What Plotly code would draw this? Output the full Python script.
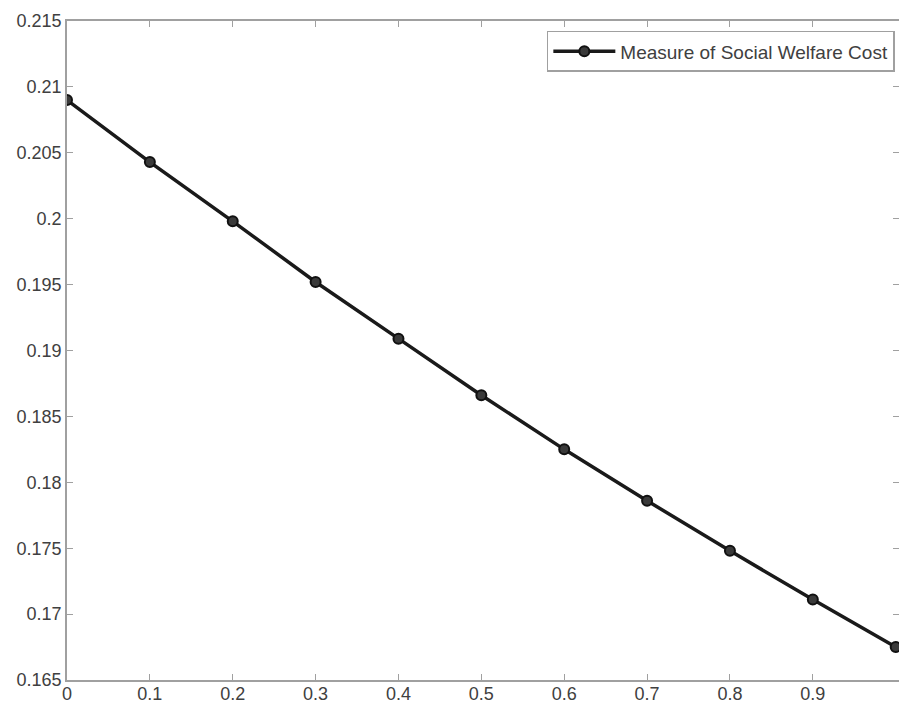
import plotly.graph_objects as go

x_vals = [0, 0.1, 0.2, 0.3, 0.4, 0.5, 0.6, 0.7, 0.8, 0.9, 1.0]
welfare_cost = [0.2090, 0.2043, 0.1998, 0.1952, 0.1909, 0.1866, 0.1825, 0.1786, 0.1748, 0.1711, 0.1675]
series_name = "Measure of Social Welfare Cost"
x_ticks = [0, 0.1, 0.2, 0.3, 0.4, 0.5, 0.6, 0.7, 0.8, 0.9]
x_tick_text = ["0", "0.1", "0.2", "0.3", "0.4", "0.5", "0.6", "0.7", "0.8", "0.9"]
y_ticks = [0.165, 0.17, 0.175, 0.18, 0.185, 0.19, 0.195, 0.2, 0.205, 0.21, 0.215]
y_tick_text = ["0.165", "0.17", "0.175", "0.18", "0.185", "0.19", "0.195", "0.2", "0.205", "0.21", "0.215"]

fig = go.Figure()
fig.add_trace(go.Scatter(
    x=x_vals, y=welfare_cost, name=series_name, mode="lines+markers",
    line=dict(color="#1a1a1a", width=3.5),
    marker=dict(symbol="circle", size=10, color="#3a3a3a", line=dict(width=2, color="#111111")),
))

axis_common = dict(
    showgrid=False, zeroline=False, showline=True, linecolor="#a0a0a0", linewidth=1.8,
    mirror="ticks", ticks="inside", ticklen=6, tickcolor="#a0a0a0", tickwidth=1.2,
    tickfont=dict(family="Liberation Sans, Arial, sans-serif", size=18, color="#404040"),
    automargin=False,
)

fig.update_layout(
    width=899, height=705,
    margin=dict(l=67, r=0, t=21, b=25),
    paper_bgcolor="white", plot_bgcolor="white",
    showlegend=True,
    legend=dict(
        x=0.995, xanchor="right", y=0.985, yanchor="top",
        bgcolor="white", bordercolor="#a0a0a0", borderwidth=1.5,
        font=dict(family="Liberation Sans, Arial, sans-serif", size=19, color="#404040"),
        itemwidth=62,
    ),
    xaxis=dict(range=[0, 1.004], tickvals=x_ticks, ticktext=x_tick_text,
               ticklabelstandoff=-4, **axis_common),
    yaxis=dict(range=[0.165, 0.215], tickvals=y_ticks, ticktext=y_tick_text,
               ticklabelstandoff=0, **axis_common),
)

fig.write_html(
    "out.html",
    config={"displayModeBar": False},
    post_script="document.body.style.margin='0';document.body.style.overflow='hidden';",
)
